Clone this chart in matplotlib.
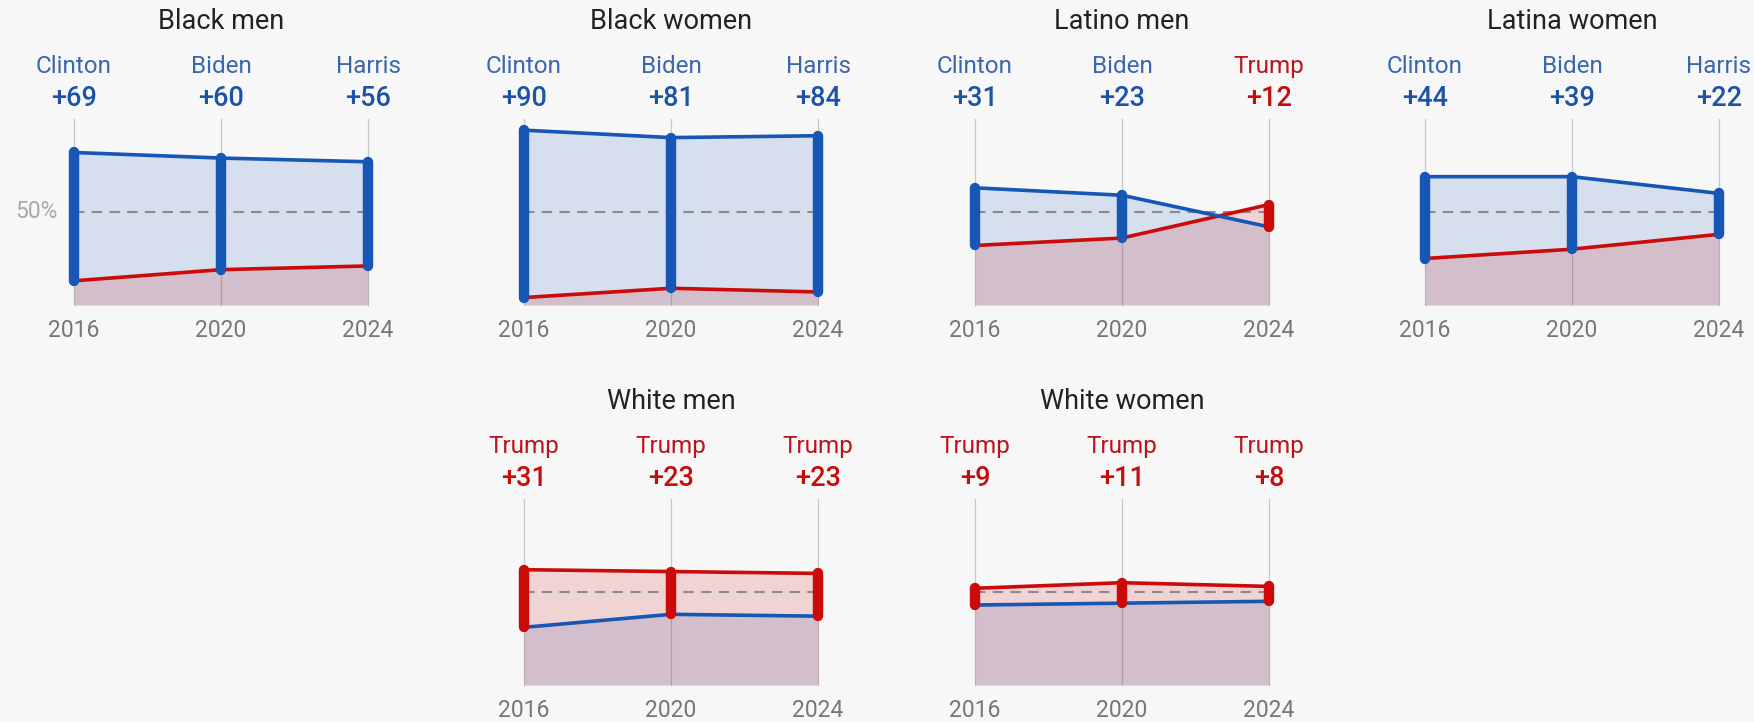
import matplotlib
matplotlib.use("Agg")
import matplotlib.pyplot as plt
import numpy as np

plt.rcParams['font.family'] = ['Roboto', 'DejaVu Sans']

# ---- data -------------------------------------------------------------
years = [2016, 2020, 2024]
dem_names = ["Clinton", "Biden", "Harris"]
rep_name = "Trump"

groups = ["Black men", "Black women", "Latino men", "Latina women",
          "White men", "White women"]
dem_share = {
    "Black men":    [82, 79, 77],
    "Black women":  [94, 90, 91],
    "Latino men":   [63, 59, 42],
    "Latina women": [69, 69, 60],
    "White men":    [31, 38, 37],
    "White women":  [43, 44, 45],
}
rep_share = {
    "Black men":    [13, 19, 21],
    "Black women":  [4, 9, 7],
    "Latino men":   [32, 36, 54],
    "Latina women": [25, 30, 38],
    "White men":    [62, 61, 60],
    "White women":  [52, 55, 53],
}

# ---- style ------------------------------------------------------------
BG = "#f7f7f7"
BLUE = "#1656b5"
RED = "#cc0a0a"
BLUE_NAME = "#3c67ad"
BLUE_NUM = "#1c53a6"
RED_NAME = "#b8151d"
RED_NUM = "#c40d0d"

W, H = 1754, 722
fig = plt.figure(figsize=(W / 100, H / 100), dpi=100, facecolor=BG)

# panel pixel layout (left x of 2016, baseline y)
panel_w, panel_h = 294, 186
layout = {
    "Black men": (74, 305),
    "Black women": (524, 305),
    "Latino men": (975, 305),
    "Latina women": (1425, 305),
    "White men": (524, 685),
    "White women": (975, 685),
}

for gi, g in enumerate(groups):
    x0, yb = layout[g]
    ax = fig.add_axes([x0 / W, (H - yb) / H, panel_w / W, panel_h / H])
    ax.set_xlim(years[0], years[-1])
    ax.set_ylim(0, 100)
    ax.axis("off")
    ax.set_facecolor("none")

    d = np.array(dem_share[g], dtype=float)
    r = np.array(rep_share[g], dtype=float)

    # vertical grid lines
    for yr in years:
        ax.plot([yr, yr], [0, 100], color="#c8c8c8", lw=0.9, zorder=1,
                clip_on=False)

    # translucent area fills
    ax.fill_between(years, 0, d, color=BLUE, alpha=0.15, lw=0, zorder=2)
    ax.fill_between(years, 0, r, color=RED, alpha=0.15, lw=0, zorder=2)

    # 50% dashed reference
    ax.plot([years[0], years[-1]], [50, 50], color="#8a8a92", lw=1.5,
            ls=(0, (5, 3.5)), zorder=3)

    # share lines
    ax.plot(years, r, color=RED, lw=2.6, zorder=4, solid_capstyle="round",
            solid_joinstyle="round", clip_on=False)
    ax.plot(years, d, color=BLUE, lw=2.6, zorder=4, solid_capstyle="round",
            solid_joinstyle="round", clip_on=False)

    # thick margin bars and labels
    for i, yr in enumerate(years):
        dem_win = d[i] > r[i]
        col = BLUE if dem_win else RED
        ax.plot([yr, yr], [r[i], d[i]], color=col, lw=7.5, zorder=5,
                solid_capstyle="round", clip_on=False)
        name = dem_names[i] if dem_win else rep_name
        margin = int(round(abs(d[i] - r[i])))
        ax.text(yr, 128.3, name, ha="center", va="center", fontsize=17.5,
                color=BLUE_NAME if dem_win else RED_NAME, clip_on=False)
        ax.text(yr, 110.8, f"+{margin}", ha="center", va="center",
                fontsize=19.5, fontweight="medium",
                color=BLUE_NUM if dem_win else RED_NUM, clip_on=False)
        ax.text(yr, -13.8, str(yr), ha="center", va="center", fontsize=16.5,
                color="#777777", clip_on=False)

    ax.text(years[1], 152.5, g, ha="center", va="center", fontsize=19.5,
            color="#222222", clip_on=False)

    if gi == 0:
        ax.text(2016 - 0.45, 50, "50%", ha="right", va="center",
                fontsize=16.5, color="#aaaaaa", clip_on=False)

fig.savefig("out.png", dpi=100, facecolor=BG)
